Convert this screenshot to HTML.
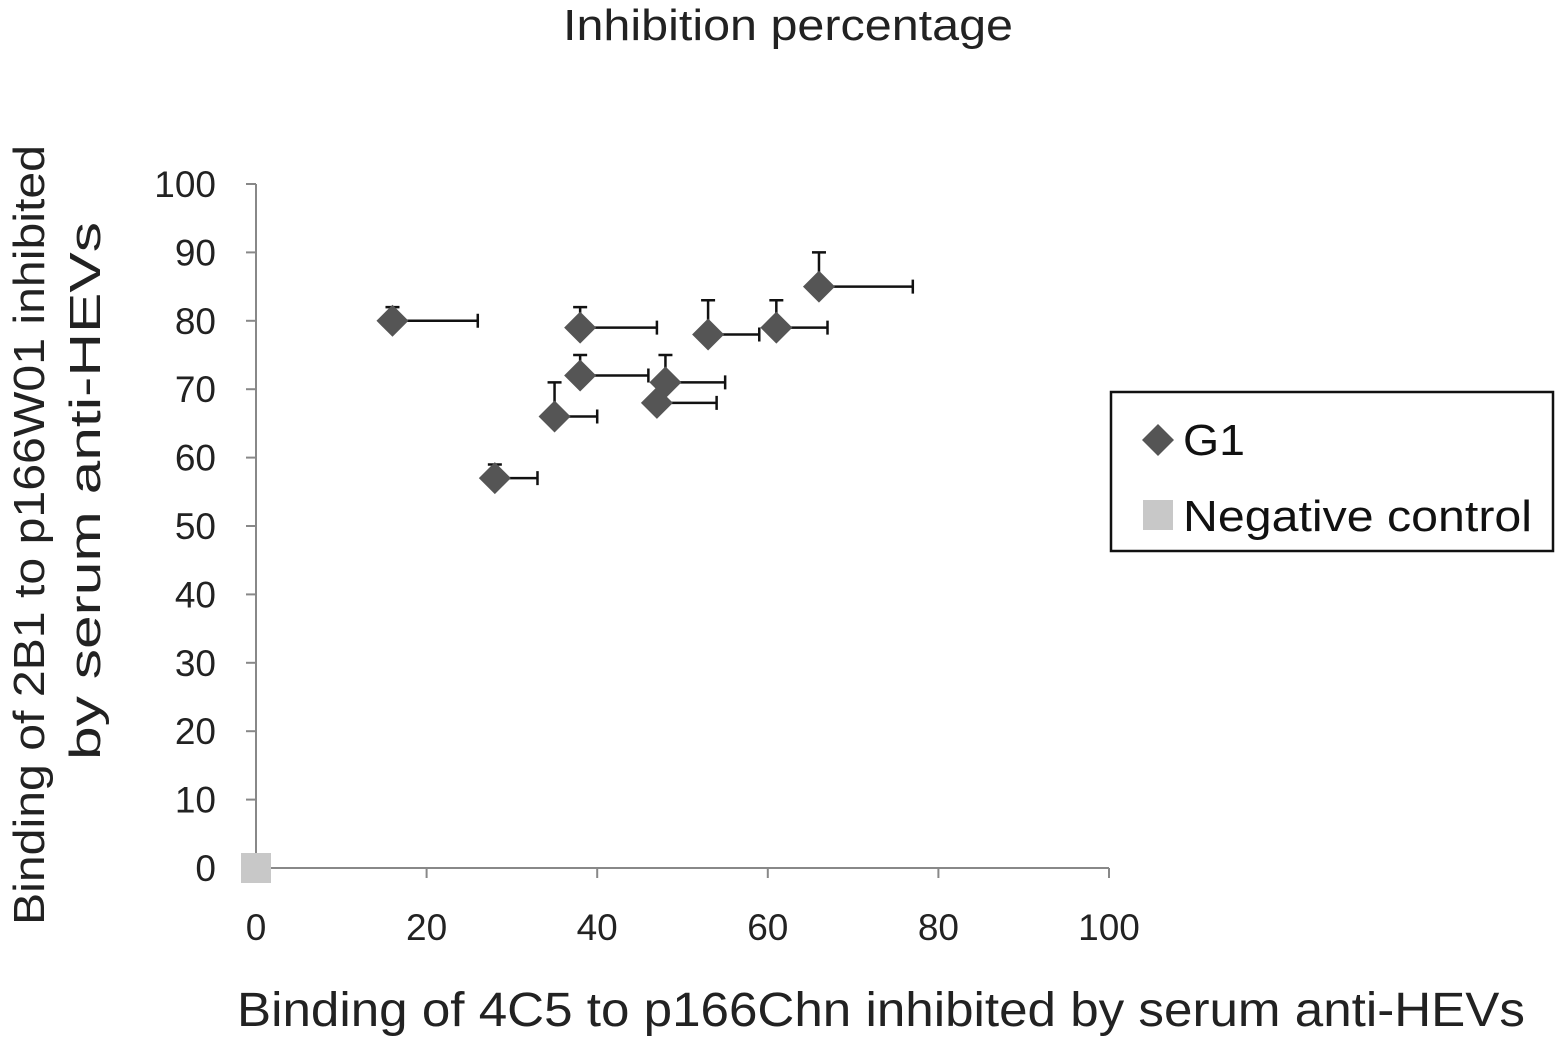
<!DOCTYPE html>
<html><head><meta charset="utf-8">
<style>
html,body{margin:0;padding:0;background:#fff;}
svg{display:block;font-family:"Liberation Sans",Arial,sans-serif;}
</style></head>
<body>
<svg id="chart" width="1557" height="1038" viewBox="0 0 1557 1038">
<text x="788" y="40" text-anchor="middle" font-size="44" textLength="450" lengthAdjust="spacingAndGlyphs" fill="#222">Inhibition percentage</text>
<g id="axes"></g>
<g id="marks"></g>
<text x="881" y="1026" text-anchor="middle" font-size="48" textLength="1288" lengthAdjust="spacingAndGlyphs" fill="#222">Binding of 4C5 to p166Chn inhibited by serum anti-HEVs</text>
<text transform="translate(44,535) rotate(-90)" text-anchor="middle" font-size="44" textLength="780" lengthAdjust="spacingAndGlyphs" fill="#222">Binding of 2B1 to p166W01 inhibited</text>
<text transform="translate(100,491) rotate(-90)" text-anchor="middle" font-size="44" textLength="538" lengthAdjust="spacingAndGlyphs" fill="#222">by serum anti-HEVs</text>
<g>
<rect x="1111" y="392" width="442" height="159" fill="#fff" stroke="#111" stroke-width="2.5"/>
<path d="M1158 424 L1174 440 L1158 456 L1142 440 Z" fill="#555"/>
<text x="1183" y="455" font-size="44" textLength="62" lengthAdjust="spacingAndGlyphs" fill="#111">G1</text>
<rect x="1143" y="500" width="30" height="30" fill="#c8c8c8"/>
<text x="1183" y="531" font-size="44" textLength="349" lengthAdjust="spacingAndGlyphs" fill="#111">Negative control</text>
</g>
</svg>
<script>
const xTicks=[0,20,40,60,80,100];
const yTicks=[0,10,20,30,40,50,60,70,80,90,100];
const g1X=[16,28,35,38,38,47,48,53,61,66];
const g1Y=[80,57,66,72,79,68,71,78,79,85];
const g1ErrX=[10,5,5,8,9,7,7,6,6,11];
const g1ErrY=[2,2,5,3,3,0,4,5,4,5];
const negX=[0];
const negY=[0];

const X=v=>256+v*8.53;
const Y=v=>868-v*6.84;
const NS='http://www.w3.org/2000/svg';
function mk(tag,attrs,parent){const e=document.createElementNS(NS,tag);for(const k in attrs)e.setAttribute(k,attrs[k]);parent.appendChild(e);return e;}
const axes=document.getElementById('axes'),marks=document.getElementById('marks');
let e;
e=mk('line',{x1:X(0),y1:Y(0),x2:X(100),y2:Y(0),stroke:'#888','stroke-width':2},axes);


e=mk('line',{x1:X(0),y1:Y(0),x2:X(0),y2:Y(100),stroke:'#888','stroke-width':2},axes);


xTicks.forEach(t=>{
 e=mk('line',{x1:X(t),y1:Y(0),x2:X(t),y2:Y(0)+10,stroke:'#888','stroke-width':2},axes);
 
 
 e=mk('text',{x:X(t),y:940,'text-anchor':'middle','font-size':37,fill:'#222'},axes);
 e.textContent=t;
 
 
});
yTicks.forEach(t=>{
 e=mk('line',{x1:X(0)-10,y1:Y(t),x2:X(0),y2:Y(t),stroke:'#888','stroke-width':2},axes);
 
 
 e=mk('text',{x:216,y:Y(t)+13,'text-anchor':'end','font-size':37,fill:'#222'},axes);
 e.textContent=t;
 
 
});
g1X.forEach((v,i)=>{
 const cx=X(v),cy=Y(g1Y[i]),ex=X(v+g1ErrX[i]),ey=Y(g1Y[i]+g1ErrY[i]);
 e=mk('path',{d:`M${cx} ${cy}H${ex}M${ex} ${cy-7}V${cy+7}`,stroke:'#111','stroke-width':2.5,fill:'none'},marks);
 
 
 if(g1ErrY[i]>0){
 e=mk('path',{d:`M${cx} ${cy}V${ey}M${cx-7} ${ey}H${cx+7}`,stroke:'#111','stroke-width':2.5,fill:'none'},marks);
 
 
 }
});
g1X.forEach((v,i)=>{
 const cx=X(v),cy=Y(g1Y[i]);
 e=mk('path',{d:`M${cx} ${cy-16}L${cx+16} ${cy}L${cx} ${cy+16}L${cx-16} ${cy}Z`,fill:'#555'},marks);
 
 
});
negX.forEach((v,i)=>{
 e=mk('rect',{x:X(v)-15,y:Y(negY[i])-15,width:30,height:30,fill:'#c8c8c8'},marks);
 
 
});
</script>
</body></html>
